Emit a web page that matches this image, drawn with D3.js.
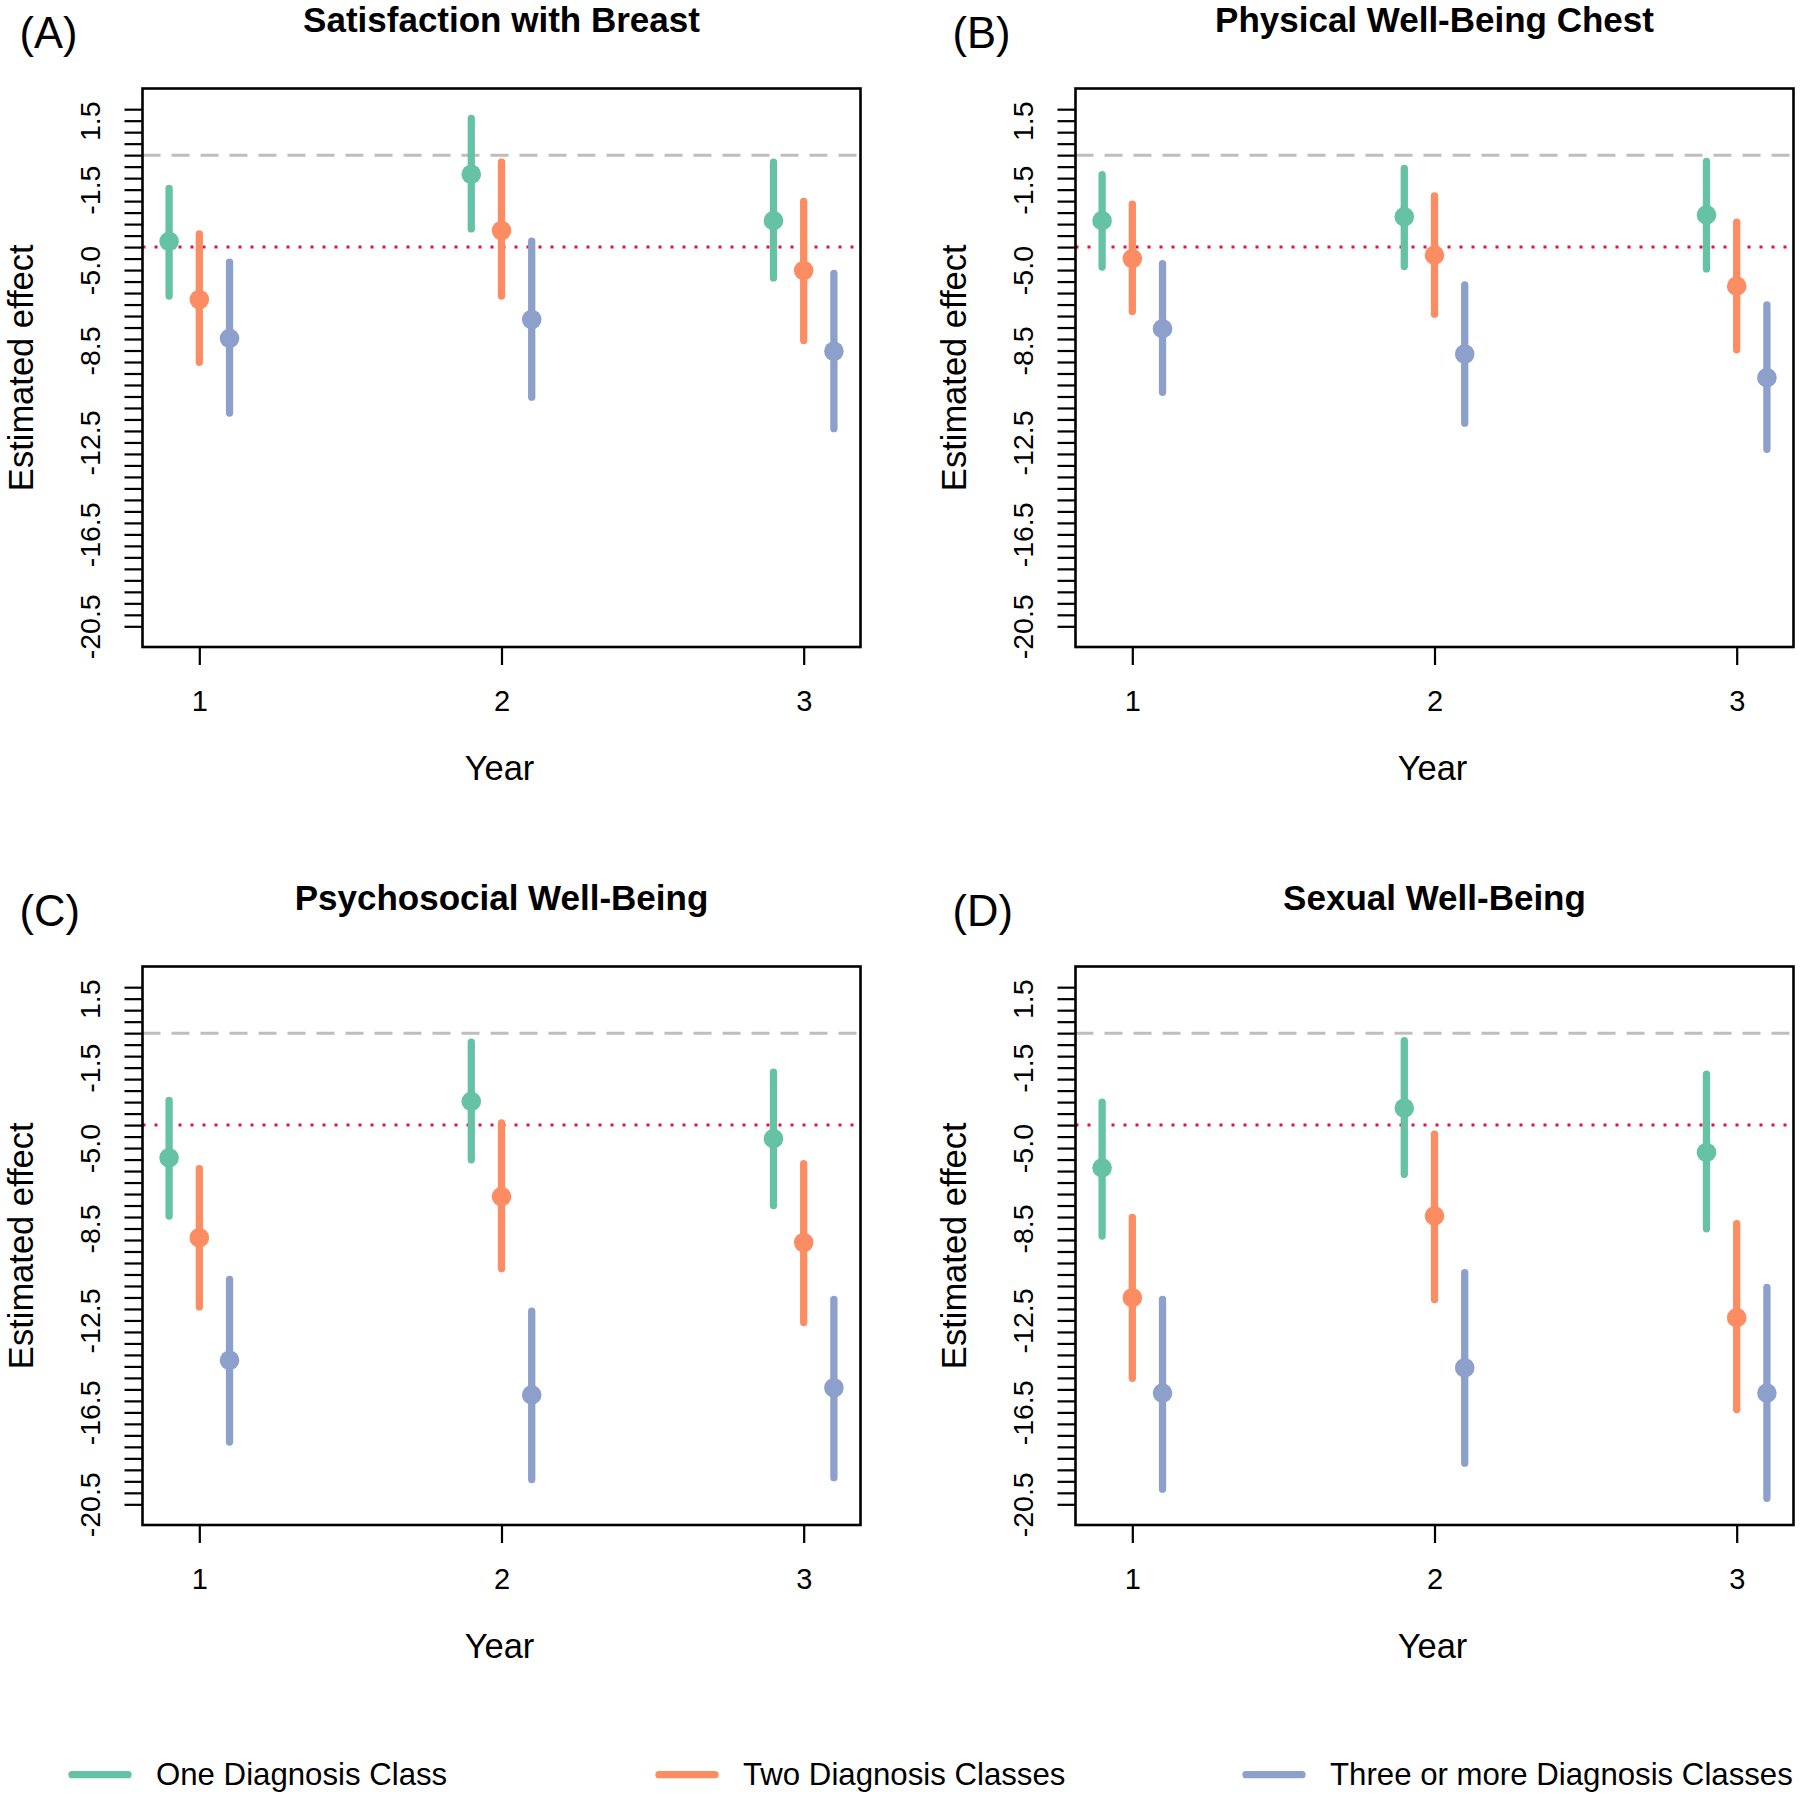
<!DOCTYPE html>
<html>
<head>
<meta charset="utf-8">
<script src="https://cdn.jsdelivr.net/npm/d3@7"></script>
<style>
  html, body { margin: 0; padding: 0; background: #fff; }
  svg { display: block; font-family: "Liberation Sans", Arial, sans-serif; }
</style>
</head>
<body>
<svg id="chart" width="1800" height="1800"></svg>
<script>
// ---------------- data ----------------
const years = [1, 2, 3];
const groups = ["One Diagnosis Class", "Two Diagnosis Classes", "Three or more Diagnosis Classes"];
const groupColors = ["#66C2A5", "#FC8D62", "#8DA0CB"];
const groupOffsets = [-0.1, 0, 0.1];
const panelTitles = ["Satisfaction with Breast", "Physical Well-Being Chest", "Psychosocial Well-Being", "Sexual Well-Being"];
const panelLetters = ["(A)", "(B)", "(C)", "(D)"];
const yTickValues = d3.range(-20.5, 2.01, 0.5);
const yTickLabels = [1.5, -1.5, -5.0, -8.5, -12.5, -16.5, -20.5];
const refZero = 0;
const refThreshold = -4;

// estimates [group][year]
const estA = [[-3.75, -0.83, -2.85], [-6.28, -3.28, -5.02], [-7.97, -7.15, -8.53]];
const upA  = [[-1.45,  1.60, -0.30], [-3.43, -0.30, -2.01], [-4.66, -3.74, -5.14]];
const lowA = [[-6.13, -3.21, -5.34], [-9.01, -6.13, -8.06], [-11.22, -10.53, -11.90]];

const estB = [[-2.85, -2.68, -2.60], [-4.50, -4.35, -5.70], [-7.55, -8.65, -9.68]];
const upB  = [[-0.85, -0.58, -0.27], [-2.13, -1.77, -2.92], [-4.72, -5.64, -6.51]];
const lowB = [[-4.87, -4.84, -4.95], [-6.80, -6.92, -8.47], [-10.32, -11.66, -12.80]];

const estC = [[-5.42, -2.97, -4.59], [-8.90, -7.11, -9.11], [-14.23, -15.74, -15.43]];
const upC  = [[-2.93, -0.39, -1.70], [-5.89, -3.91, -5.68], [-10.71, -12.10, -11.58]];
const lowC = [[-7.96, -5.51, -7.50], [-11.91, -10.25, -12.59], [-17.79, -19.42, -19.34]];

const estD = [[-5.86, -3.26, -5.19], [-11.51, -7.95, -12.38], [-15.66, -14.56, -15.66]];
const upD  = [[-3.00, -0.33, -1.78], [-8.02, -4.39, -8.29], [-11.58, -10.42, -11.06]];
const lowD = [[-8.83, -6.14, -8.51], [-15.02, -11.59, -16.38], [-19.84, -18.71, -20.24]];

const panelData = [
  {est: estA, up: upA, low: lowA},
  {est: estB, up: upB, low: lowB},
  {est: estC, up: upC, low: lowC},
  {est: estD, up: upD, low: lowD}
];

// ---------------- layout ----------------
const svg = d3.select("#chart");
const boxW = 718, boxH = 558.5;
const panelPos = [
  {x: 142.5, y: 88.5}, {x: 1075.5, y: 88.5},
  {x: 142.5, y: 966.5}, {x: 1075.5, y: 966.5}
];
const ink = "#000";

panelPos.forEach((p, i) => {
  const d = panelData[i];
  const g = svg.append("g").attr("transform", `translate(${p.x},${p.y})`);
  const x = d3.scaleLinear().domain([0.812, 3.188]).range([0, boxW]);
  const y = d3.scaleLinear().domain([-21.4, 2.9]).range([boxH, 0]);

  const clipId = "clip" + i;
  g.append("clipPath").attr("id", clipId).append("rect")
    .attr("x", 0).attr("y", 0).attr("width", boxW).attr("height", boxH);
  const plot = g.append("g").attr("clip-path", `url(#${clipId})`);

  // reference lines
  plot.append("line").attr("x1", 0).attr("x2", boxW)
    .attr("y1", y(refZero)).attr("y2", y(refZero))
    .attr("stroke", "#BEBEBE").attr("stroke-width", 3).attr("stroke-dasharray", "18,11");
  plot.append("line").attr("x1", 0).attr("x2", boxW)
    .attr("y1", y(refThreshold)).attr("y2", y(refThreshold))
    .attr("stroke", "#E0143C").attr("stroke-width", 3).attr("stroke-dasharray", "3,9");

  // error bars + points
  groups.forEach((gname, gi) => {
    const rows = years.map((yr, yi) => ({
      yr, est: d.est[gi][yi], up: d.up[gi][yi], low: d.low[gi][yi]
    }));
    const gg = plot.append("g");
    gg.selectAll("line.ci").data(rows).join("line")
      .attr("class", "ci")
      .attr("x1", r => x(r.yr + groupOffsets[gi])).attr("x2", r => x(r.yr + groupOffsets[gi]))
      .attr("y1", r => y(r.up)).attr("y2", r => y(r.low))
      .attr("stroke", groupColors[gi]).attr("stroke-width", 7.3).attr("stroke-linecap", "round");
    gg.selectAll("circle").data(rows).join("circle")
      .attr("cx", r => x(r.yr + groupOffsets[gi])).attr("cy", r => y(r.est))
      .attr("r", 9.8).attr("fill", groupColors[gi]);
  });

  // y axis
  const labelSet = new Set(yTickLabels.map(v => v.toFixed(1)));
  const yAxis = d3.axisLeft(y).tickValues(yTickValues).tickSize(18).tickPadding(0)
    .tickFormat(v => labelSet.has(v.toFixed(1)) ? v.toFixed(1) : "");
  const ya = g.append("g").call(yAxis);
  ya.select(".domain").remove();
  ya.selectAll(".tick line").attr("stroke", ink).attr("stroke-width", 2.2);
  ya.selectAll(".tick text")
    .attr("x", null).attr("dy", null)
    .attr("text-anchor", "middle")
    .attr("transform", "translate(-43,0) rotate(-90)")
    .attr("font-size", 28.5).attr("fill", ink)
    .attr("font-family", "Liberation Sans, Arial, sans-serif");

  // x axis
  const xAxis = d3.axisBottom(x).tickValues(years).tickSize(18).tickFormat(d3.format("d"));
  const xa = g.append("g").attr("transform", `translate(0,${boxH})`).call(xAxis);
  xa.select(".domain").remove();
  xa.selectAll(".tick line").attr("stroke", ink).attr("stroke-width", 2.2);
  xa.selectAll(".tick text").attr("y", 63.5).attr("dy", null)
    .attr("font-size", 29).attr("fill", ink)
    .attr("font-family", "Liberation Sans, Arial, sans-serif");

  // box
  g.append("rect").attr("x", 0).attr("y", 0).attr("width", boxW).attr("height", boxH)
    .attr("fill", "none").attr("stroke", ink).attr("stroke-width", 2.6);

  // titles
  g.append("text").attr("x", boxW / 2).attr("y", -56.5)
    .attr("text-anchor", "middle").attr("font-weight", "bold").attr("font-size", 35)
    .text(panelTitles[i]);
  g.append("text").attr("x", 19.5 - p.x + (i % 2 ? 933 : 0)).attr("y", -40.5)
    .attr("font-size", 43.5).text(panelLetters[i]);
  g.append("text").attr("x", boxW / 2 - 2).attr("y", 133)
    .attr("transform", `translate(0,${boxH})`)
    .attr("text-anchor", "middle").attr("font-size", 34.5).text("Year");
  g.append("text")
    .attr("transform", `translate(${33 - 142.5},${boxH / 2}) rotate(-90)`)
    .attr("text-anchor", "middle").attr("font-size", 34.5).text("Estimated effect");
});

// ---------------- legend ----------------
const legendX = [72, 659, 1246];
const legend = svg.append("g");
groups.forEach((gname, gi) => {
  legend.append("line")
    .attr("x1", legendX[gi]).attr("x2", legendX[gi] + 56)
    .attr("y1", 1774.7).attr("y2", 1774.7)
    .attr("stroke", groupColors[gi]).attr("stroke-width", 7.3).attr("stroke-linecap", "round");
  legend.append("text")
    .attr("x", legendX[gi] + 84).attr("y", 1784.5)
    .attr("font-size", 31.2).text(gname);
});
</script>
</body>
</html>
